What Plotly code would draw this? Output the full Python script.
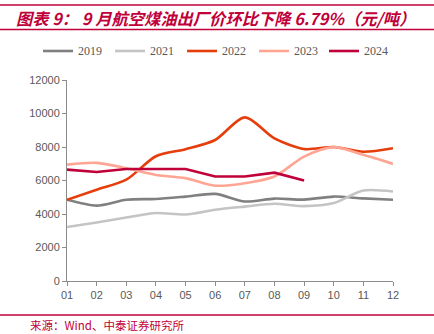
import plotly.graph_objects as go

months = ["01", "02", "03", "04", "05", "06", "07", "08", "09", "10", "11", "12"]
y2019 = [4850, 4500, 4850, 4900, 5040, 5200, 4750, 4920, 4860, 5040, 4930, 4850]
y2021 = [3220, 3490, 3790, 4060, 3970, 4250, 4440, 4610, 4470, 4650, 5400, 5340]
y2022 = [4850, 5450, 6050, 7450, 7870, 8420, 9770, 8520, 7880, 8000, 7720, 7930]
y2023 = [6950, 7050, 6730, 6330, 6140, 5690, 5840, 6240, 7430, 7990, 7530, 6990]
y2024 = [6650, 6510, 6690, 6690, 6690, 6240, 6240, 6470, 6000]
yticks = [0, 2000, 4000, 6000, 8000, 10000, 12000]

series = [
    ("2019", y2019, "#808080", "spline"),
    ("2021", y2021, "#c4c4c4", "spline"),
    ("2022", y2022, "#e53d0c", "spline"),
    ("2023", y2023, "#ffa594", "spline"),
    ("2024", y2024, "#c00039", "linear"),
]

# plot area geometry (pixels)
L, R, T, B = 67, 41, 80, 53
W, H = 434, 334
PW, PH = W - L - R, H - T - B


def px(x):
    return (x - L) / PW


def py(y):
    return (H - B - y) / PH


fig = go.Figure()
for name, vals, color, shape in series:
    fig.add_trace(go.Scatter(
        x=months[:len(vals)], y=vals, name=name, mode="lines",
        line=dict(color=color, width=2.6, shape=shape, smoothing=0.8),
        showlegend=False,
    ))

axis_font = dict(family="Liberation Sans, Arial", size=11, color="#595959")
fig.update_layout(
    width=W, height=H,
    margin=dict(l=L, r=R, t=T, b=B),
    paper_bgcolor="white", plot_bgcolor="white",
    xaxis=dict(
        type="category", range=[0, 11], showgrid=False, zeroline=False,
        showline=True, linecolor="#8c8c8c", linewidth=1,
        ticks="outside", ticklen=4, tickcolor="#8c8c8c",
        tickfont=axis_font,
    ),
    yaxis=dict(
        range=[0, 12000], tickvals=yticks, ticktext=[str(v) for v in yticks],
        showgrid=False, zeroline=False, showline=True, linecolor="#8c8c8c",
        linewidth=1, ticks="outside", ticklen=4, tickcolor="#8c8c8c",
        tickfont=axis_font,
    ),
)

# Legend row: short line sample followed by the year
legend_x = [43, 115, 187, 259, 329]
for (name, _, color, _), lx in zip(series, legend_x):
    fig.add_shape(type="line", xref="paper", yref="paper",
                  x0=px(lx), x1=px(lx + 30), y0=py(51), y1=py(51),
                  line=dict(color=color, width=2.6))
    fig.add_annotation(xref="paper", yref="paper", x=px(lx + 33), y=py(51.5),
                       xanchor="left", yanchor="middle", showarrow=False,
                       text=name,
                       font=dict(family="Liberation Serif, Times New Roman",
                                 size=12, color="#595959"))

# Title band with rules above and below
red = "#c00039"
for yy in [5, 29.5]:
    fig.add_shape(type="line", xref="paper", yref="paper",
                  x0=px(0), x1=px(W), y0=py(yy), y1=py(yy),
                  line=dict(color=red, width=1.6))
fig.add_annotation(
    xref="paper", yref="paper", x=px(14), y=py(17.5),
    xanchor="left", yanchor="middle", showarrow=False,
    text="<b><i>图表 9：&nbsp;9 月航空煤油出厂价环比下降 6.79%（元/吨）</i></b>",
    font=dict(family="Noto Sans CJK SC", size=16.3, color=red),
)
# Source footer
fig.add_shape(type="line", xref="paper", yref="paper",
              x0=px(0), x1=px(W), y0=py(315), y1=py(315),
              line=dict(color=red, width=1.4))
fig.add_annotation(
    xref="paper", yref="paper", x=px(28), y=py(325),
    xanchor="left", yanchor="middle", showarrow=False,
    text="来源：Wind、中泰证券研究所",
    font=dict(family="Noto Sans CJK SC", size=11.5, color=red),
)

fig.write_html("out.html")
